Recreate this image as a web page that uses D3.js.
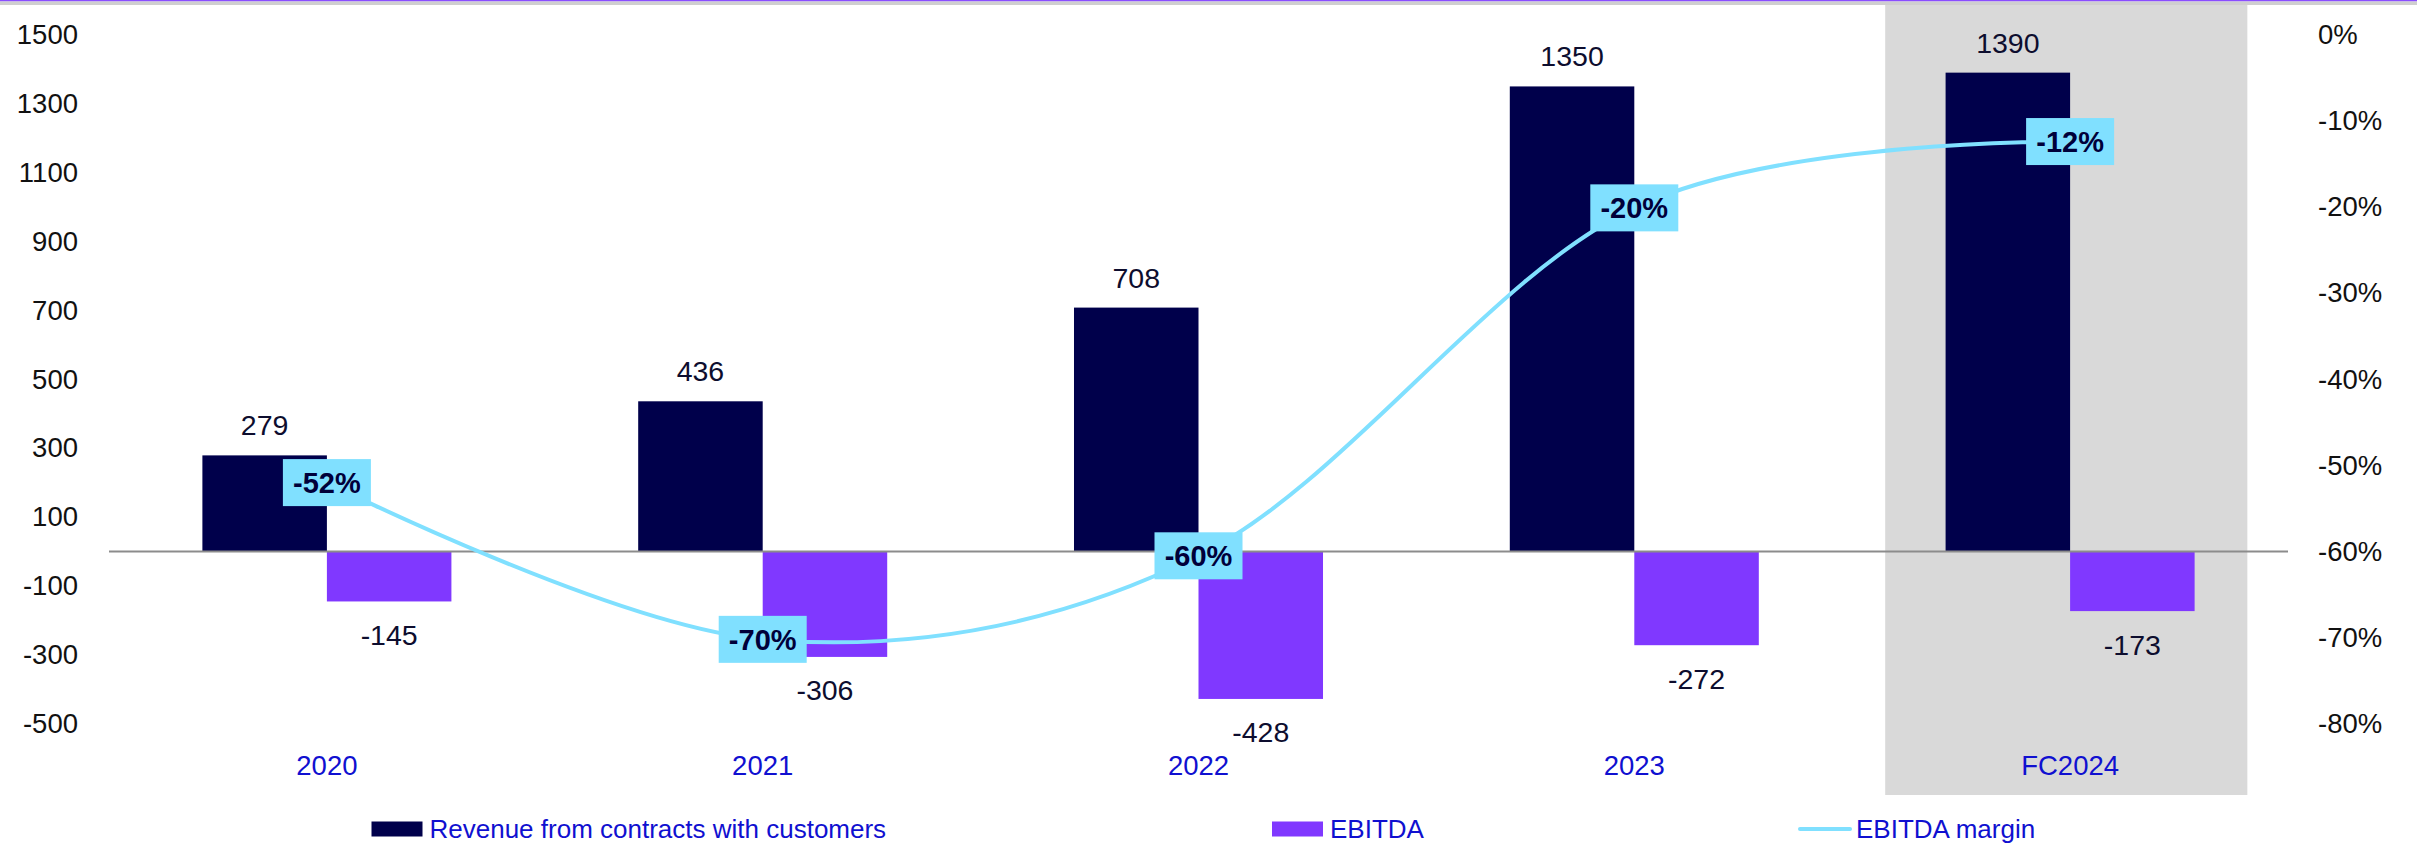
<!DOCTYPE html>
<html>
<head>
<meta charset="utf-8">
<script src="https://cdn.jsdelivr.net/npm/d3@7"></script>
<style>
  html, body { margin: 0; padding: 0; background: #fff; }
  svg { display: block; }
</style>
</head>
<body>
<svg id="chart" width="2417" height="843"></svg>
<script>
// ---- data ----
const categories = ["2020", "2021", "2022", "2023", "FC2024"];
const revenue = [279, 436, 708, 1350, 1390];
const ebitda = [-145, -306, -428, -272, -173];
const margin = [-0.520, -0.702, -0.605, -0.201, -0.124];
const marginLabels = ["-52%", "-70%", "-60%", "-20%", "-12%"];
const leftTicks = [-500, -300, -100, 100, 300, 500, 700, 900, 1100, 1300, 1500];
const rightTicks = [0, -0.1, -0.2, -0.3, -0.4, -0.5, -0.6, -0.7, -0.8];
const seriesNames = ["Revenue from contracts with customers", "EBITDA", "EBITDA margin"];

// ---- style ----
const C_REV = "#00004B", C_EB = "#8038FF", C_LINE = "#80E0FF", C_CAT = "#1010D0";
const FONT = "'Liberation Sans', Arial, sans-serif";

const W = 2417, H = 843;
const plot = { left: 109, right: 2288, top: 34.75, bottom: 723.75 };

const svg = d3.select("#chart");

// top decoration bars
svg.append("rect").attr("x", 0).attr("y", 0).attr("width", W).attr("height", 1.5).attr("fill", "#8A4DFF");
svg.append("rect").attr("x", 0).attr("y", 1.5).attr("width", W).attr("height", 3.5).attr("fill", "#CFCFCF");

const x = d3.scaleBand().domain(categories).range([plot.left, plot.right]).paddingInner(0).paddingOuter(0);
const bw = x.bandwidth();
const barW = bw * 0.2857;
const y = d3.scaleLinear().domain([-500, 1500]).range([plot.bottom, plot.top]);
const y2 = d3.scaleLinear().domain([-0.8, 0]).range([plot.bottom, plot.top]);

// forecast highlight
svg.append("rect")
  .attr("x", x("FC2024") + bw * 0.0757)
  .attr("y", 5)
  .attr("width", bw * 0.831)
  .attr("height", 790)
  .attr("fill", "#D9D9D9");

// bars
const cx = c => x(c) + bw / 2;
svg.append("g").selectAll("rect").data(categories).join("rect")
  .attr("x", c => cx(c) - barW)
  .attr("y", (c, i) => y(revenue[i]))
  .attr("width", barW)
  .attr("height", (c, i) => y(0) - y(revenue[i]))
  .attr("fill", C_REV);
svg.append("g").selectAll("rect").data(categories).join("rect")
  .attr("x", c => cx(c))
  .attr("y", y(0))
  .attr("width", barW)
  .attr("height", (c, i) => y(ebitda[i]) - y(0))
  .attr("fill", C_EB);

// zero line
svg.append("line")
  .attr("x1", plot.left).attr("x2", plot.right)
  .attr("y1", y(0)).attr("y2", y(0))
  .attr("stroke", "#8C8C8C").attr("stroke-width", 2);

// bar labels
svg.append("g").selectAll("text").data(categories).join("text")
  .attr("x", c => cx(c) - barW / 2)
  .attr("y", (c, i) => y(revenue[i]) - 20)
  .attr("text-anchor", "middle")
  .attr("font-family", FONT).attr("font-size", 28.5).attr("fill", "#0D0D2E")
  .text((c, i) => revenue[i]);
svg.append("g").selectAll("text").data(categories).join("text")
  .attr("x", c => cx(c) + barW / 2)
  .attr("y", (c, i) => y(ebitda[i]) + 43.5)
  .attr("text-anchor", "middle")
  .attr("font-family", FONT).attr("font-size", 28.5).attr("fill", "#0D0D2E")
  .text((c, i) => ebitda[i]);

// margin line
const pts = categories.map((c, i) => [cx(c), y2(margin[i])]);
svg.append("path")
  .attr("d", d3.line().curve(d3.curveCardinal.tension(0))(pts))
  .attr("fill", "none").attr("stroke", C_LINE).attr("stroke-width", 4);

// margin labels
const lg = svg.append("g").selectAll("g").data(pts).join("g")
  .attr("transform", d => `translate(${d[0]},${d[1]})`);
lg.append("rect").attr("x", -44).attr("y", -23.5).attr("width", 88).attr("height", 47).attr("fill", C_LINE);
lg.append("text").attr("text-anchor", "middle").attr("y", 10.5)
  .attr("font-family", FONT).attr("font-weight", "bold").attr("font-size", 29).attr("fill", "#00003A")
  .text((d, i) => marginLabels[i]);

// axes
const axL = svg.append("g").attr("transform", `translate(${plot.left},0)`)
  .call(d3.axisLeft(y).tickValues(leftTicks).tickSize(0).tickPadding(31).tickFormat(d3.format("d")));
const axR = svg.append("g").attr("transform", `translate(${plot.right},0)`)
  .call(d3.axisRight(y2).tickValues(rightTicks).tickSize(0).tickPadding(30).tickFormat(d3.format(".0%")));
const axB = svg.append("g").attr("transform", `translate(0,744)`)
  .call(d3.axisBottom(x).tickSize(0).tickPadding(11));
[axL, axR, axB].forEach(a => {
  a.select(".domain").remove();
  a.selectAll("text").attr("font-family", FONT).attr("font-size", 27.5).attr("fill", "#111");
});
axB.selectAll("text").attr("fill", C_CAT);
axR.selectAll("text").text(d => d3.format(".0%")(d).replace("−", "-"));
axL.selectAll("text").text(d => String(d));

// legend
const legY = 829;
const legX = [371.5, 1272, 1798];
const lgd = svg.append("g");
seriesNames.forEach((name, i) => {
  if (i < 2) {
    lgd.append("rect").attr("x", legX[i]).attr("y", legY - 7.5).attr("width", 51).attr("height", 15)
      .attr("fill", i === 0 ? C_REV : C_EB);
  } else {
    lgd.append("line").attr("x1", legX[i] + 2).attr("x2", legX[i] + 52).attr("y1", legY).attr("y2", legY)
      .attr("stroke", C_LINE).attr("stroke-width", 4).attr("stroke-linecap", "round");
  }
  lgd.append("text").attr("x", legX[i] + 58).attr("y", legY + 8.5)
    .attr("font-family", FONT).attr("font-size", 26).attr("fill", C_CAT).text(name);
});
</script>
</body>
</html>
